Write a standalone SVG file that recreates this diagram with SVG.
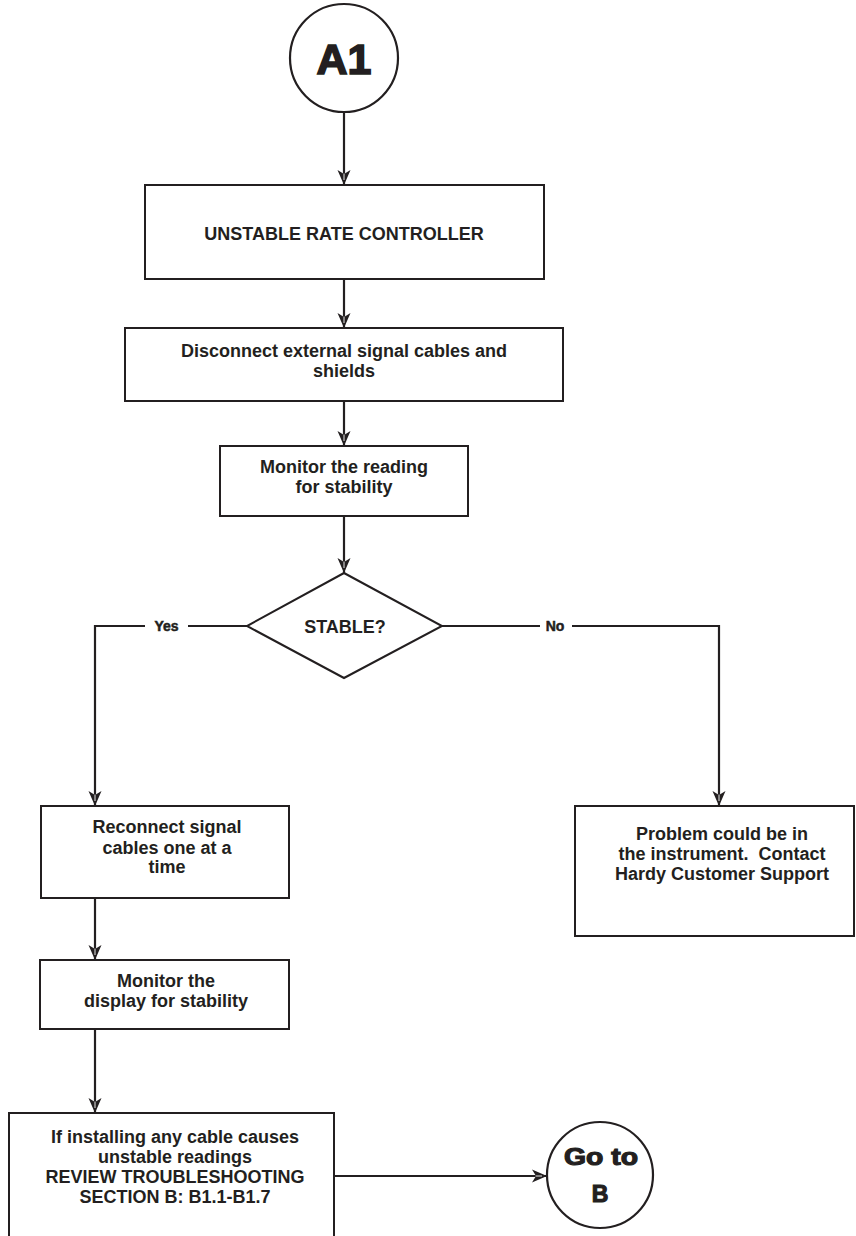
<svg xmlns="http://www.w3.org/2000/svg" width="856" height="1236" viewBox="0 0 856 1236">
  <style>
    .box { fill: #ffffff; stroke: #231f20; stroke-width: 2; }
    .term { fill: #ffffff; stroke: #231f20; stroke-width: 2.2; }
    .wire { fill: none; stroke: #231f20; stroke-width: 2.2; }
    .txt { font-family: "Liberation Sans", Arial, sans-serif; font-weight: bold; font-size: 18px; fill: #231f20; text-anchor: middle; }
    .heavy { font-family: "Liberation Sans", Arial, sans-serif; font-weight: bold; fill: #231f20; stroke: #231f20; text-anchor: middle; }
    .lbl { font-family: "Liberation Sans", Arial, sans-serif; font-weight: bold; font-size: 14px; fill: #231f20; stroke: #231f20; stroke-width: 0.5; text-anchor: middle; }
  </style>
  <defs>
    <marker id="arrow" viewBox="-16 -8 17 16" refX="0" refY="0" markerWidth="17" markerHeight="16" markerUnits="userSpaceOnUse" orient="auto">
      <path d="M0 0 L-15 -6.5 L-11 0 L-15 6.5 Z" fill="#231f20"/>
      <path d="M-11.5 0 L-5 0" stroke="#ffffff" stroke-width="0.9"/>
    </marker>
  </defs>

  <rect width="856" height="1236" fill="#ffffff"/>

  <!-- connectors -->
  <g id="connectors">
    <path class="wire" d="M344 112 V185" marker-end="url(#arrow)"/>
    <path class="wire" d="M344 279 V328" marker-end="url(#arrow)"/>
    <path class="wire" d="M344 401 V446" marker-end="url(#arrow)"/>
    <path class="wire" d="M344 516 V573" marker-end="url(#arrow)"/>
    <path class="wire" d="M247 626 H188 M145 626 H95 V806" marker-end="url(#arrow)"/>
    <path class="wire" d="M442 626 H540 M572 626 H719 V806" marker-end="url(#arrow)"/>
    <path class="wire" d="M95 898 V960" marker-end="url(#arrow)"/>
    <path class="wire" d="M95 1029 V1113" marker-end="url(#arrow)"/>
    <path class="wire" d="M334 1176 H547" marker-end="url(#arrow)"/>
    <text class="lbl" x="166.5" y="631">Yes</text>
    <text class="lbl" x="555" y="631">No</text>
  </g>

  <!-- start terminal -->
  <g id="start-a1">
    <circle class="term" cx="344" cy="58" r="54"/>
    <text class="heavy" x="344" y="74" font-size="43" stroke-width="1.6">A1</text>
  </g>

  <g id="unstable-rate-controller">
    <rect class="box" x="145" y="185" width="399" height="94"/>
    <text class="txt" x="344" y="240">UNSTABLE RATE CONTROLLER</text>
  </g>

  <g id="disconnect-cables">
    <rect class="box" x="125" y="328" width="438" height="73"/>
    <text class="txt" x="344" y="357">Disconnect external signal cables and</text>
    <text class="txt" x="344" y="377">shields</text>
  </g>

  <g id="monitor-reading">
    <rect class="box" x="220" y="446" width="248" height="70"/>
    <text class="txt" x="344" y="473">Monitor the reading</text>
    <text class="txt" x="344" y="493">for stability</text>
  </g>

  <g id="stable-decision">
    <polygon class="box" points="344,573 442,626 344,678 247,626"/>
    <text class="txt" x="345" y="633">STABLE?</text>
  </g>

  <g id="reconnect-cables">
    <rect class="box" x="41" y="806" width="248" height="92"/>
    <text class="txt" x="167" y="833">Reconnect signal</text>
    <text class="txt" x="167" y="854">cables one at a</text>
    <text class="txt" x="167" y="873">time</text>
  </g>

  <g id="contact-support">
    <rect class="box" x="575" y="806" width="279" height="130"/>
    <text class="txt" x="722" y="840">Problem could be in</text>
    <text class="txt" x="722" y="860" xml:space="preserve">the instrument.  Contact</text>
    <text class="txt" x="722" y="880">Hardy Customer Support</text>
  </g>

  <g id="monitor-display">
    <rect class="box" x="40" y="960" width="249" height="69"/>
    <text class="txt" x="166" y="987">Monitor the</text>
    <text class="txt" x="166" y="1007">display for stability</text>
  </g>

  <g id="review-section-b">
    <rect class="box" x="9" y="1113" width="325" height="130"/>
    <text class="txt" x="175" y="1143">If installing any cable causes</text>
    <text class="txt" x="175" y="1163">unstable readings</text>
    <text class="txt" x="175" y="1183">REVIEW TROUBLESHOOTING</text>
    <text class="txt" x="175" y="1203">SECTION B: B1.1-B1.7</text>
  </g>

  <!-- end terminal -->
  <g id="goto-b">
    <circle class="term" cx="600" cy="1175" r="53"/>
    <text class="heavy" x="601" y="1165" font-size="23" stroke-width="1.1" textLength="74" lengthAdjust="spacingAndGlyphs">Go to</text>
    <text class="heavy" x="600" y="1202" font-size="23" stroke-width="1.1">B</text>
  </g>
</svg>
